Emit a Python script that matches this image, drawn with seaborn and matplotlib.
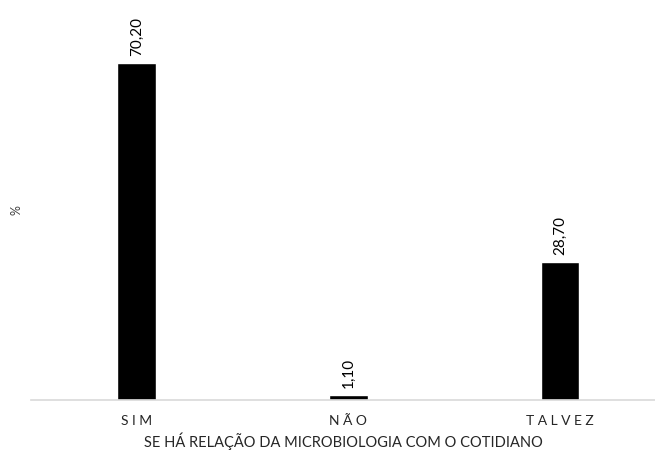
import matplotlib
matplotlib.use("Agg")
import matplotlib.pyplot as plt
import seaborn as sns
import pandas as pd

# data
categories = ["SIM", "NÃO", "TALVEZ"]
percent = [70.20, 1.10, 28.70]
tick_labels = ["S I M", "N Ã O", "T A L V E Z"]

sns.set_style("white")
plt.rcParams['font.family'] = ['Lato', 'DejaVu Sans']

df = pd.DataFrame({"categoria": categories, "pct": percent})

fig = plt.figure(figsize=(6.55, 4.58), dpi=100)
ax = fig.add_axes([31 / 655, 58 / 458, 1 - 31 / 655, 342 / 458])

sns.barplot(data=df, x="categoria", y="pct", color="black", width=0.183,
            saturation=1, ax=ax)

ax.set_xlim(-0.5, 2.449)
ax.set_ylim(0, 71.3)

# value labels above bars, rotated like the original
for i, v in enumerate(percent):
    ax.annotate(f"{v:.2f}".replace(".", ","), (i, v), xytext=(0, 5),
                textcoords="offset points", rotation=90, ha="center",
                va="bottom", fontsize=11, color="black")

for s in ["top", "right", "left"]:
    ax.spines[s].set_visible(False)
ax.spines["bottom"].set_color("#d9d9d9")
ax.spines["bottom"].set_linewidth(1.2)
ax.set_yticks([])
ax.set_xticks(range(len(categories)))
ax.set_xticklabels(tick_labels, fontsize=10, color="#262626")
ax.tick_params(axis="x", length=0, pad=11)

ax.set_xlabel("SE HÁ RELAÇÃO DA MICROBIOLOGIA COM O COTIDIANO",
              fontsize=10.5, color="#262626", labelpad=4)
ax.set_ylabel("%", fontsize=9, color="#404040")
ax.yaxis.set_label_coords(-0.013, 0.556)

fig.savefig("out.png", dpi=100)
